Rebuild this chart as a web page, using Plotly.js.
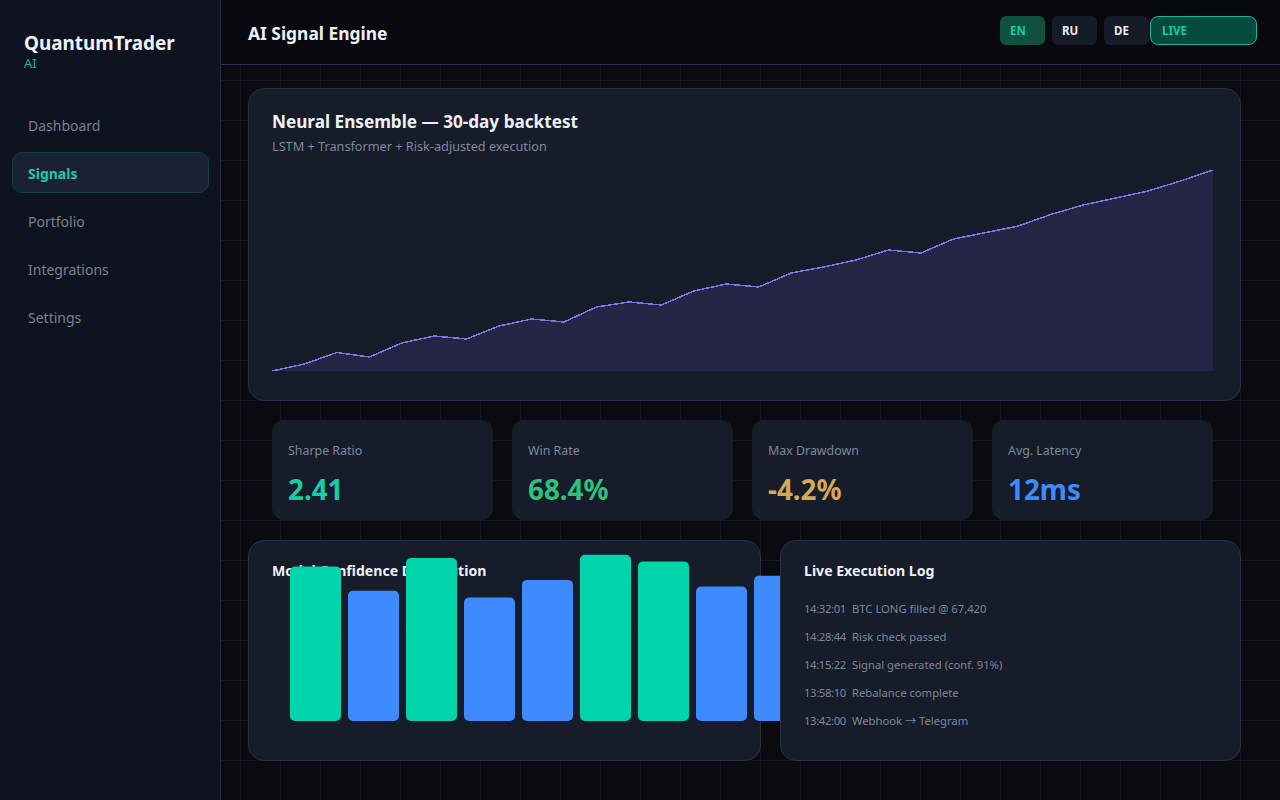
<!DOCTYPE html>
<html><head><meta charset="utf-8">
<script src="https://cdn.plot.ly/plotly-3.0.1.min.js"></script>
<style>
@font-face{font-family:ArrowFace;src:local("Noto Sans CJK SC");unicode-range:U+2192}
*{box-sizing:border-box;margin:0;padding:0}
html,body{width:1280px;height:800px;overflow:hidden}
body{font-family:"Noto Sans",sans-serif;position:relative;background-color:#0a0b11;
background-image:linear-gradient(#14171f 1px,transparent 1px),linear-gradient(90deg,#14171f 1px,transparent 1px);background-size:40px 40px;color:#f0f2f8}
.a{position:absolute;white-space:nowrap}
#side{left:0;top:0;width:221px;height:800px;background:#0f1320;border-right:1px solid #262b3a}
#head{left:221px;top:0;width:1059px;height:65px;background:#08090f;border-bottom:1px solid #2a3040}
.brand{left:24px;top:31px;font-size:18.9px;font-weight:700;line-height:24px;color:#f0f2f8}
.brand2{left:24px;top:55px;font-size:13px;line-height:17px;color:#14b892}
.nav{left:28px;font-size:14px;line-height:20px;color:#79808f}
.nav.on{color:#1fc9a3;font-weight:700;font-size:14px}
.navbg{left:12px;top:152px;width:197px;height:41px;border-radius:10px;background:#1a2133;border:1px solid #123f40}
h1{font-size:17.4px;font-weight:700;line-height:24px;color:#eef0f6;left:248px;top:21px}
.btn{top:16px;width:45px;height:29px;border-radius:6px;font-size:11.5px;font-weight:700;line-height:29px;padding-left:10px;background:#161b28;color:#eef0f6}
.btn.on{background:#0f5041;color:#1fc9a3}
.live{left:1150px;top:16px;width:107px;height:29px;border-radius:8px;background:#034b3e;border:1px solid #1fb594;color:#1fc9a3;font-size:11.5px;font-weight:700;line-height:27px;padding-left:11px}
.card{background:#161c2a;border:1px solid #2a3040;border-radius:16px}
.stat{background:#161c2a;border-radius:12px;top:420px;width:221px;height:100px}
.slabel{font-size:12.4px;line-height:17px;color:#7f8798;left:16px;top:22px}
.sval{font-size:27.8px;font-weight:700;line-height:38px;left:16px;top:50px}
.t2{font-size:17.16px;font-weight:700;line-height:24px;color:#eef0f6}
.t3{font-size:14.1px;font-weight:700;line-height:20px;color:#eef0f6}
.sub{font-size:12.7px;line-height:17px;color:#7f8798}
.log{font-family:ArrowFace,"Noto Sans",sans-serif;font-size:11.25px;line-height:16px;color:#7f8798}
.logt{letter-spacing:-0.35px}
.scatterlayer path{shape-rendering:crispEdges !important}
</style></head><body>
<div id="root"></div>
<script>
const navItems=["Dashboard","Signals","Portfolio","Integrations","Settings"];
const langs=["EN","RU","DE"];
const statLabels=["Sharpe Ratio","Win Rate","Max Drawdown","Avg. Latency"];
const statValues=["2.41","68.4%","-4.2%","12ms"];
const statColors=["#14cfa5","#2fc27a","#d4a857","#3d8bff"];
const logTimes=["14:32:01","14:28:44","14:15:22","13:58:10","13:42:00"];
const logTexts=["BTC LONG filled @ 67,420","Risk check passed","Signal generated (conf. 91%)","Rebalance complete","Webhook → Telegram"];
const days=[1,2,3,4,5,6,7,8,9,10,11,12,13,14,15,16,17,18,19,20,21,22,23,24,25,26,27,28,29,30];
const equity=[0,7,18.5,14,28,35,32,45,52,49,64,69,66,80,87,84,98,104,111,121,118,132,138.5,145,156.5,166,173,180,190,201];
const bins=["B1","B2","B3","B4","B5","B6","B7","B8","B9"];
const confidence=[92,77.5,97,73.5,84,99,95,80,86.5];

const root=document.getElementById('root');
function el(cls,style,text){const d=document.createElement('div');d.className='a '+cls;if(style)d.style.cssText=style;if(text!=null)d.textContent=text;root.appendChild(d);return d;}
const side=el('','left:0;top:0;');side.id='side';
const head=el('');head.id='head';
el('brand','', 'QuantumTrader');
el('brand2','', 'AI');
el('navbg');
navItems.forEach((n,i)=>el('nav'+(i===1?' on':''),'top:'+(i===1?164:116+48*i)+'px',n));
const h=document.createElement('h1');h.className='a';h.textContent='AI Signal Engine';root.appendChild(h);
langs.forEach((l,i)=>el('btn'+(i===0?' on':''),'left:'+(1000+52*i)+'px',l));
el('live','', 'LIVE');
el('card','left:248px;top:88px;width:993px;height:313px');
el('t2','left:272px;top:110px','Neural Ensemble — 30-day backtest');
el('sub','left:272px;top:138px','LSTM + Transformer + Risk-adjusted execution');
const c1=el('','left:272px;top:170px;width:941px;height:201px');
statLabels.forEach((s,i)=>{const d=el('stat','left:'+(272+240*i)+'px');
 const a=document.createElement('div');a.className='a slabel';a.textContent=s;d.appendChild(a);
 const b=document.createElement('div');b.className='a sval';b.textContent=statValues[i];b.style.color=statColors[i];d.appendChild(b);});
el('card','left:248px;top:540px;width:513px;height:221px');
el('t3','left:272px;top:561px','Model Confidence Distribution');
const c2=el('','left:286px;top:553px;width:522px;height:168px');
el('card','left:780px;top:540px;width:461px;height:221px');
el('t3','left:804px;top:561px','Live Execution Log');
logTimes.forEach((t,i)=>{el('log logt','left:804px;top:'+(601+28*i)+'px',t);el('log','left:852px;top:'+(601+28*i)+'px',logTexts[i]);});

const hidden={visible:false,fixedrange:true};
const base={paper_bgcolor:'rgba(0,0,0,0)',plot_bgcolor:'rgba(0,0,0,0)',margin:{l:0,r:0,t:0,b:0},showlegend:false};
Plotly.newPlot(c1,[{x:days,y:equity,type:'scatter',mode:'lines',fill:'tozeroy',fillcolor:'rgba(130,100,230,0.15)',line:{color:'#8272e6',width:1.5,shape:'linear'},hoverinfo:'skip'}],
 Object.assign({},base,{width:941,height:201,xaxis:Object.assign({},hidden,{range:[1,30]}),yaxis:Object.assign({},hidden,{range:[0,201]})}),{staticPlot:true,displayModeBar:false});
const barColors=confidence.map(v=>v>=90?'#00d4aa':'#3d8bff');
// Two overlapping halves per bar: Plotly rounds only the far end of a bar, so one half rounds the top and the other the bottom.
const upper={x:bins,y:confidence.map(v=>v*0.6),base:confidence.map(v=>v*0.4),type:'bar',marker:{color:barColors,cornerradius:5,line:{width:0}},hoverinfo:'skip'};
const lower={x:bins,y:confidence.map(v=>-v*0.6),base:confidence.map(v=>v*0.6),type:'bar',marker:{color:barColors,cornerradius:5,line:{width:0}},hoverinfo:'skip'};
Plotly.newPlot(c2,[upper,lower],
 Object.assign({},base,{width:522,height:168,barmode:'overlay',bargap:7/58,xaxis:Object.assign({},hidden,{type:'category',range:[-29.5/58,-29.5/58+9]}),yaxis:Object.assign({},hidden,{range:[0,100]})}),{staticPlot:true,displayModeBar:false});
</script>
</body></html>
